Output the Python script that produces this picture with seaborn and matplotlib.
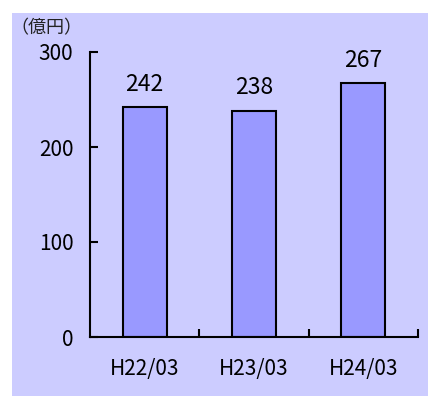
import matplotlib
matplotlib.use("Agg")
import matplotlib.pyplot as plt
from matplotlib.patches import Rectangle
from matplotlib.ticker import FixedLocator
import seaborn as sns
import pandas as pd

categories = ["H22/03", "H23/03", "H24/03"]
values = [242, 238, 267]
y_ticks = [0, 100, 200, 300]
unit_label = "（億円）"

sns.set_theme(style="white")
plt.rcParams['font.family'] = ['Noto Sans CJK JP', 'DejaVu Sans']

fig = plt.figure(figsize=(4.28, 3.96), dpi=100, facecolor="white")
bg = Rectangle((12/428, 0), 1 - 12/428, 1 - 13/396, transform=fig.transFigure,
               facecolor="#CCCCFF", edgecolor="none", zorder=-10)
fig.patches.append(bg)
ax = fig.add_axes([90/428, 1 - 337/396, (418 - 90)/428, (337 - 52)/396])
ax.set_facecolor("none")
ax.set_zorder(5)

df = pd.DataFrame({"cat": categories, "val": values})
sns.barplot(data=df, x="cat", y="val", color="#9999FF", saturation=1, width=0.4,
            edgecolor="black", linewidth=1.5, ax=ax)

ax.set_xlim(-0.5, 2.5)
ax.set_ylim(0, 300)
ax.set_yticks(y_ticks)
ax.set_xlabel("")
ax.set_ylabel("")
for s in ["top", "right"]:
    ax.spines[s].set_visible(False)
for s in ["left", "bottom"]:
    ax.spines[s].set_color("black")
    ax.spines[s].set_linewidth(1.5)

ax.tick_params(axis="y", direction="in", length=6, width=1.5, color="black", pad=12,
               labelsize=15, labelcolor="black", left=True)
ax.tick_params(axis="x", which="major", length=0, pad=15, labelsize=15, labelcolor="black")
ax.xaxis.set_minor_locator(FixedLocator([0.5, 1.5, 2.5]))
ax.tick_params(axis="x", which="minor", direction="in", length=6, width=1.5, color="black", bottom=True)

for i, v in enumerate(values):
    ax.text(i, v + 12, str(v), ha="center", va="bottom", fontsize=16.5, color="black")

fig.text(10/428, 1 - 28/396, unit_label, ha="left", va="center", fontsize=13, color="#222222")

fig.savefig("out.png", dpi=100, facecolor="white")
